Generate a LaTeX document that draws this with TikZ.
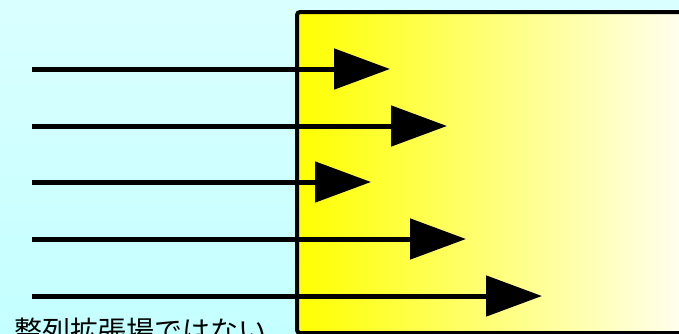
\documentclass[tikz,border=0pt]{standalone}
\usepackage{fontspec}
\newfontfamily\cjk{Noto Sans CJK JP}
\usetikzlibrary{arrows.meta}
\definecolor{bgtop}{RGB}{218,255,255}
\definecolor{bgbot}{RGB}{196,255,255}
\definecolor{paleend}{RGB}{255,255,250}
\begin{document}
\begin{tikzpicture}[x=1pt,y=-1pt,
  ray/.style={line width=5pt,-{Triangle[length=56pt,width=40pt]}},
  label/.style={font=\cjk\fontsize{28pt}{30pt}\selectfont,anchor=base west,inner sep=0pt}]
\useasboundingbox (0,0) rectangle (679,333);
\clip (0,0) rectangle (679,333);
\shade[top color=bgtop,bottom color=bgbot] (0,0) rectangle (679,333);
\shade[left color=yellow,right color=paleend,draw=black,line width=4pt,rounded corners=3pt]
  (297,12) rectangle (700,333);
\coordinate (s1) at (32,69);  \coordinate (e1) at (390,69);
\coordinate (s2) at (32,126); \coordinate (e2) at (447,126);
\coordinate (s3) at (32,182); \coordinate (e3) at (371,182);
\coordinate (s4) at (32,239); \coordinate (e4) at (466,239);
\coordinate (s5) at (32,296); \coordinate (e5) at (542,296);
\foreach \i in {1,...,5} \draw[ray] (s\i) -- (e\i);
\node[label] (t) at (14,341) {整列拡張場ではない};
\end{tikzpicture}
\end{document}
